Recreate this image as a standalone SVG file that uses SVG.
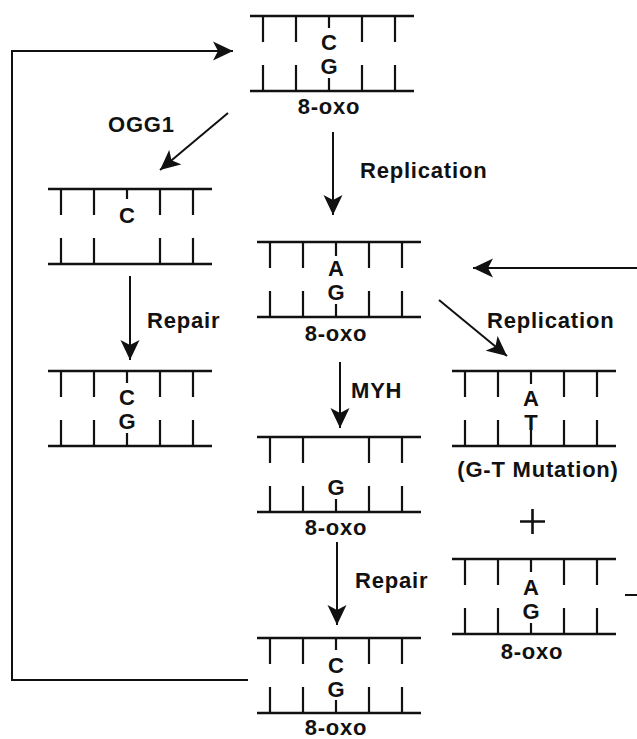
<svg xmlns="http://www.w3.org/2000/svg" xmlns:xlink="http://www.w3.org/1999/xlink" width="637" height="739" viewBox="0 0 637 739">
<style>
.s{stroke:#111;stroke-width:2.6;fill:none}
.t{stroke:#111;stroke-width:2.2;fill:none}
.c{stroke:#111;stroke-width:2;fill:none}
text{font-family:"Liberation Sans",Arial,sans-serif;font-weight:bold;font-size:22px;fill:#111}
.m{text-anchor:middle}
.l{letter-spacing:0.8px}
</style>
<defs>
<marker id="ah" viewBox="0 0 20 20" markerUnits="userSpaceOnUse" markerWidth="20" markerHeight="20" refX="20" refY="10" orient="auto">
<path d="M0,0.5 L20,10 L0,19.5 L5,10 Z" fill="#111"/>
</marker>
<g id="duplex">
<path class="s" d="M0,0 H164 M0,75 H164"/>
<path class="t" d="M13,0 V26 M46,0 V26 M112,0 V26 M145,0 V26 M13,49 V75 M46,49 V75 M112,49 V75 M145,49 V75"/>
</g>
</defs>
<rect width="637" height="739" fill="#fff"/>

<g id="connectors">
<path class="c" d="M248,680 H12 V51 H233" marker-end="url(#ah)"/>
<path class="c" d="M625,595 H652 V268 H473" marker-end="url(#ah)"/>
<path class="c" d="M228,113 L160,170" marker-end="url(#ah)"/>
<path class="c" d="M333,132 V215" marker-end="url(#ah)"/>
<path class="c" d="M130,276 V360" marker-end="url(#ah)"/>
<path class="c" d="M340,362 V428" marker-end="url(#ah)"/>
<path class="c" d="M439,300 L507,356" marker-end="url(#ah)"/>
<path class="c" d="M337,542 V625" marker-end="url(#ah)"/>
</g>

<g id="labels">
<text class="l" x="108" y="132">OGG1</text>
<text class="l" x="360" y="178">Replication</text>
<text class="l" x="147" y="328">Repair</text>
<text class="l" x="351" y="398">MYH</text>
<text class="l" x="487" y="328">Replication</text>
<text class="l" x="355" y="588">Repair</text>
</g>

<g id="n-top">
<use xlink:href="#duplex" transform="translate(250,16)"/>
<path class="t" d="M329,16 V28 M329,78 V91"/>
<text class="m" x="329" y="50">C</text>
<text class="m" x="329" y="74">G</text>
<text class="m l" x="329" y="114">8-oxo</text>
</g>

<g id="n-ogg1">
<use xlink:href="#duplex" transform="translate(48,189)"/>
<path class="t" d="M127,189 V199"/>
<text class="m" x="127" y="223">C</text>
</g>

<g id="n-repaired-left">
<use xlink:href="#duplex" transform="translate(48,371)"/>
<path class="t" d="M127,371 V383 M127,433 V446"/>
<text class="m" x="127" y="405">C</text>
<text class="m" x="127" y="429">G</text>
</g>

<g id="n-mismatch">
<use xlink:href="#duplex" transform="translate(257,242)"/>
<path class="t" d="M336,242 V256 M336,304 V317"/>
<text class="m" x="336" y="276">A</text>
<text class="m" x="336" y="300">G</text>
<text class="m l" x="336" y="341">8-oxo</text>
</g>

<g id="n-myh">
<path class="s" d="M257,437 H421 M257,512 H421"/>
<path class="t" d="M270,437 V463 M303,437 V463 M369,437 V463 M402,437 V463 M270,486 V512 M303,486 V512 M369,486 V512 M402,486 V512 M336,499 V512"/>
<text class="m" x="336" y="495">G</text>
<text class="m l" x="336" y="535">8-oxo</text>
</g>

<g id="n-final">
<use xlink:href="#duplex" transform="translate(257,638)"/>
<path class="t" d="M336,638 V650 M336,700 V713"/>
<text class="m" x="336" y="673">C</text>
<text class="m" x="336" y="697">G</text>
<text class="m l" x="336" y="735">8-oxo</text>
</g>

<g id="n-mutation">
<use xlink:href="#duplex" transform="translate(452,371)"/>
<path class="t" d="M531,371 V384 M531,428 V446"/>
<text class="m" x="531" y="406">A</text>
<text class="m" x="531" y="430">T</text>
<text class="m l" x="538" y="477">(G-T Mutation)</text>
</g>

<g id="plus">
<path class="s" d="M520,521.5 H545 M532.5,509 V534"/>
</g>

<g id="n-mismatch-right">
<use xlink:href="#duplex" transform="translate(452,559)"/>
<path class="t" d="M531,559 V572 M531,623 V634"/>
<text class="m" x="531" y="595">A</text>
<text class="m" x="531" y="619">G</text>
<text class="m l" x="532" y="659">8-oxo</text>
</g>
</svg>
